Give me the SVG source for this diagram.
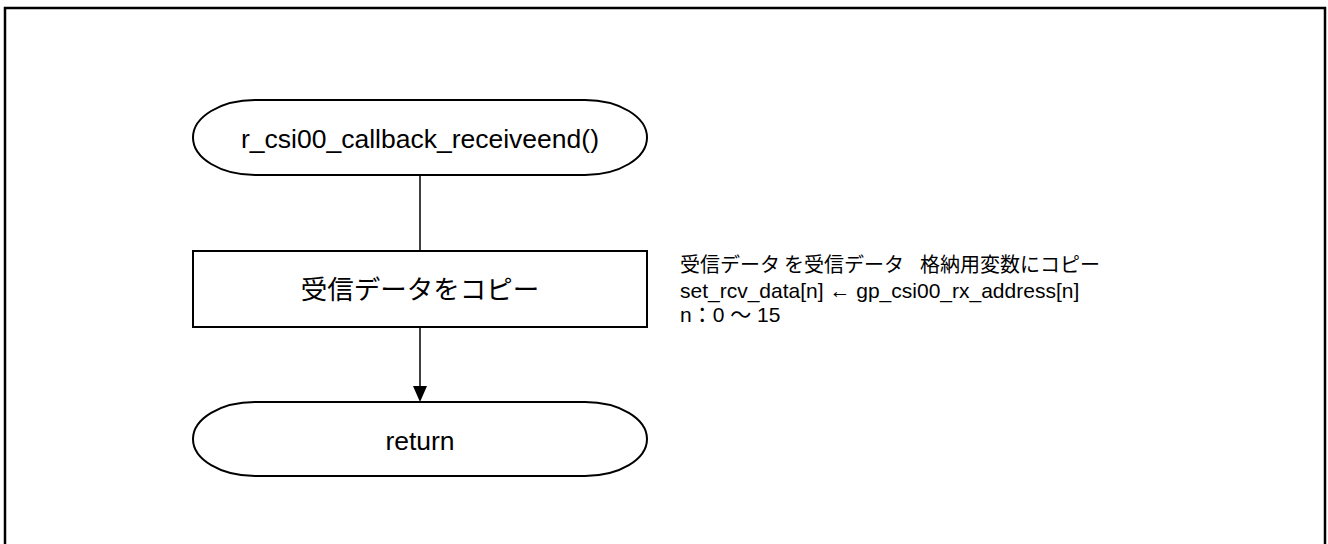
<svg xmlns="http://www.w3.org/2000/svg" width="1328" height="544" viewBox="0 0 1328 544">
<style>
.s{fill:#fff;stroke:#000;stroke-width:2}
.t{font-family:"Liberation Sans","Noto Sans CJK JP",sans-serif;font-size:26.5px;text-anchor:middle;fill:#000}
.j{font-family:"Noto Sans CJK JP",sans-serif;font-size:20px;fill:#000}
.n{font-family:"Liberation Sans","Noto Sans CJK JP",sans-serif;font-size:21px;fill:#000}
</style>
<rect x="5" y="8" width="1320" height="545" fill="#fff" stroke="#000" stroke-width="2.5"/>
<g id="connectors" stroke="#000" stroke-width="1.5" fill="none">
<line x1="420" y1="175" x2="420" y2="251"/>
<line x1="420" y1="327" x2="420" y2="386"/>
<path d="M413,386 L427,386 L420,402 Z" fill="#000" stroke="none"/>
</g>
<g id="start"><path class="s" d="M255,100 H585 A62,37.5 0 0 1 585,175 H255 A62,37.5 0 0 1 255,100 Z"/><text class="t" x="420" y="148">r_csi00_callback_receiveend()</text></g>
<g id="copy"><rect class="s" x="193" y="251" width="454" height="76"/><text class="t" x="420" y="299">受信データをコピー</text></g>
<g id="note"><text class="j" x="680" y="272">受信データ<tspan dx="4">を受信データ</tspan><tspan dx="16">格納用変数にコピー</tspan></text><text class="n" x="680" y="298">set_rcv_data[n] ← gp_csi00_rx_address[n]</text><text class="n" x="680" y="322">n：0 ～ 15</text></g>
<g id="end"><path class="s" d="M255,402 H585 A62,37 0 0 1 585,476 H255 A62,37 0 0 1 255,402 Z"/><text class="t" x="420" y="450">return</text></g>
</svg>
